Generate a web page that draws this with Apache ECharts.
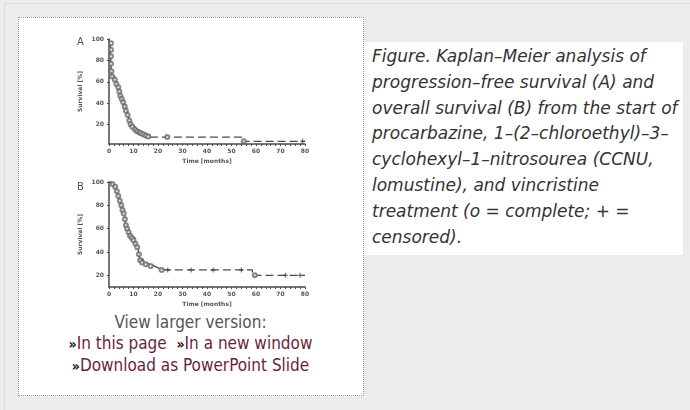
<!DOCTYPE html>
<html>
<head>
<meta charset="utf-8">
<script src="https://cdn.jsdelivr.net/npm/echarts@6/dist/echarts.min.js"></script>
<style>
html, body { margin: 0; padding: 0; }
body { width: 690px; height: 410px; background: #ececec; position: relative; overflow: hidden; }
#frame { position: absolute; left: 4px; top: 3px; width: 700px; height: 420px; border-left: 1px solid #dcdcdc; border-top: 1px solid #dcdcdc; }
#figbox { position: absolute; left: 18px; top: 17px; width: 344px; height: 377px; background: #fff; border: 1px dotted #9a9a9a; }
#caption { position: absolute; left: 364px; top: 42px; width: 319px; height: 213px; background: #fff; }
#caption p { margin: 0; padding: 2px 0 0 8px; font: italic 17px "DejaVu Sans", sans-serif; line-height: 25.8px; color: #333; white-space: nowrap; }
#links { position: absolute; left: 18px; width: 345px; top: 312px; text-align: center; font-family: "Liberation Sans Narrow", "DejaVu Sans Condensed", sans-serif; font-size: 17px; line-height: 21px; color: #555; }
#links a { color: #6b1f40; text-decoration: none; }
#links b { color: #111; font-size: 14px; }
#chart { position: absolute; left: 0; top: 0; width: 690px; height: 410px; }
</style>
</head>
<body>
<div id="frame"></div>
<div id="figbox"></div>
<div id="caption"><p>Figure. Kaplan–Meier analysis of<br>progression–free survival (A) and<br>overall survival (B) from the start of<br>procarbazine, 1–(2–chloroethyl)–3–<br>cyclohexyl–1–nitrosourea (CCNU,<br>lomustine), and vincristine<br>treatment (o = complete; + =<br>censored).</p></div>
<div id="links">View larger version:<br><b>»</b><a>In this page</a>&nbsp;&nbsp;<b>»</b><a>In a new window</a><br><b>»</b><a>Download as PowerPoint Slide</a></div>
<div id="chart"></div>
<script>
// months / survival %
var xTicks = [0, 10, 20, 30, 40, 50, 60, 70, 80];
var yTicks = [20, 40, 60, 80, 100];

// A: progression-free survival
var pfsSolid = [[0, 100], [0.5, 94], [0.6, 87], [0.7, 80], [0.8, 73], [1, 68], [1.3, 65], [2.4, 62], [3, 58],
    [3.8, 54], [4.5, 48], [5, 45], [5.8, 42], [6.4, 38], [6.9, 34], [7.6, 30], [8.3, 25], [8.8, 21],
    [9.2, 18.5], [10.6, 15.5], [12, 13], [13.5, 11.5], [15, 10], [16.7, 8.5]];
var pfsTail = [[16.7, 8.5], [54, 4.5], [80, 4.5]];
var pfsComplete = [[0.8, 96], [0.8, 90], [0.8, 84], [0.8, 77], [1, 70], [1.3, 65], [2.4, 62], [3, 58],
    [3.8, 55], [4.2, 51], [4.6, 47], [5.2, 44], [5.8, 41], [6.4, 37], [6.9, 33], [7.6, 29], [8.3, 24],
    [8.8, 20.5], [9.5, 18], [10.6, 15.5], [11.4, 14], [12.3, 13], [13, 12], [14, 11], [15, 10], [16, 9],
    [23.8, 8.5], [55, 4.5]];
var pfsCensored = [[79, 4.5]];

// B: overall survival
var osSolid = [[0, 100], [0.5, 100], [1.2, 99], [2, 97], [2.8, 94], [3.5, 90], [4, 87], [4.7, 82],
    [5.3, 78], [5.8, 75], [6.4, 71], [6.8, 63], [7.3, 61], [7.8, 58], [8.5, 55], [9.2, 52.5], [10.5, 48],
    [11.2, 46], [11.9, 42.5], [12.5, 34], [13.9, 30.5], [15.5, 29.5], [16.6, 28.5], [18, 27], [19.4, 25.7],
    [20.7, 24.6], [22, 24.6]];
var osTail = [[22, 24.6], [58.5, 20], [80, 20]];
var osComplete = [[1.5, 98], [2.5, 96], [3.2, 92], [3.8, 88], [4.4, 84], [5, 80], [5.5, 76], [6, 73],
    [6.5, 68], [6.9, 63], [7.4, 60], [8, 57], [8.6, 54], [9.3, 52], [10, 50], [10.8, 47], [11.5, 44],
    [12.2, 38], [12.7, 33], [13.5, 31], [15, 29.5], [17, 28], [21.5, 24.6], [59.5, 20]];
var osCensored = [[24, 24.6], [33.5, 24.6], [42.5, 24.6], [54, 24.6], [72, 20], [78, 20]];

var lineCol = '#4a4a4a';
var tickFont = { fontSize: 6, fontWeight: 'bold', color: '#555', fontFamily: 'DejaVu Sans' };
var plusSym = 'path://M4,0h2v4h4v2h-4v4h-2v-4h-4v-2h4z';

function xAxisOpt(idx) {
    return {
        type: 'value', gridIndex: idx, min: 0, max: 80, interval: 10,
        name: 'Time [months]', nameLocation: 'middle', nameGap: 14,
        nameTextStyle: tickFont,
        axisLine: { lineStyle: { color: lineCol, width: 1.5 } },
        axisTick: { length: 2, lineStyle: { color: lineCol } },
        minorTick: { show: true, splitNumber: 5, length: 2, lineStyle: { color: lineCol } },
        axisLabel: Object.assign({ margin: 4, customValues: xTicks }, tickFont),
        splitLine: { show: false }
    };
}

function yAxisOpt(idx, mn) {
    return {
        type: 'value', gridIndex: idx, min: mn, max: 100,
        name: 'Survival [%]', nameLocation: 'middle', nameGap: 26,
        nameTextStyle: tickFont,
        axisLine: { show: true, lineStyle: { color: lineCol, width: 1.5 } },
        axisTick: { show: true, length: 2, customValues: yTicks, lineStyle: { color: lineCol } },
        axisLabel: Object.assign({ margin: 5, customValues: yTicks }, tickFont),
        splitLine: { show: false }
    };
}

function stepSeries(data, idx, dashed) {
    return {
        type: 'line', xAxisIndex: idx, yAxisIndex: idx, data: data, step: 'end',
        symbol: 'none', silent: true,
        lineStyle: { color: lineCol, width: 1.3, type: dashed ? [8, 4] : 'solid' }
    };
}

function markSeries(data, idx, sym, size) {
    return {
        type: 'scatter', xAxisIndex: idx, yAxisIndex: idx, data: data,
        symbol: sym, symbolSize: size, silent: true, z: 3,
        itemStyle: sym === 'emptyCircle' ? { color: '#6a6a6a', borderWidth: 1 } : { color: '#333' }
    };
}

var chart = echarts.init(document.getElementById('chart'), null, { renderer: 'canvas' });
chart.setOption({
    animation: false,
    backgroundColor: 'transparent',
    title: [
        { text: 'A', left: 72, top: 32, textStyle: { fontSize: 10, fontWeight: 'normal', color: '#555', fontFamily: 'DejaVu Sans' } },
        { text: 'B', left: 72, top: 177, textStyle: { fontSize: 10, fontWeight: 'normal', color: '#555', fontFamily: 'DejaVu Sans' } }
    ],
    grid: [
        { left: 109, right: 385, top: 39, bottom: 266 },
        { left: 109, right: 385, top: 182, bottom: 123 }
    ],
    xAxis: [xAxisOpt(0), xAxisOpt(1)],
    yAxis: [yAxisOpt(0, 2), yAxisOpt(1, 10)],
    series: [
        stepSeries(pfsSolid, 0, false),
        stepSeries(pfsTail, 0, true),
        markSeries(pfsComplete, 0, 'emptyCircle', 4),
        markSeries(pfsCensored, 0, plusSym, 5),
        stepSeries(osSolid, 1, false),
        stepSeries(osTail, 1, true),
        markSeries(osComplete, 1, 'emptyCircle', 4),
        markSeries(osCensored, 1, plusSym, 5)
    ]
});
</script>
</body>
</html>
